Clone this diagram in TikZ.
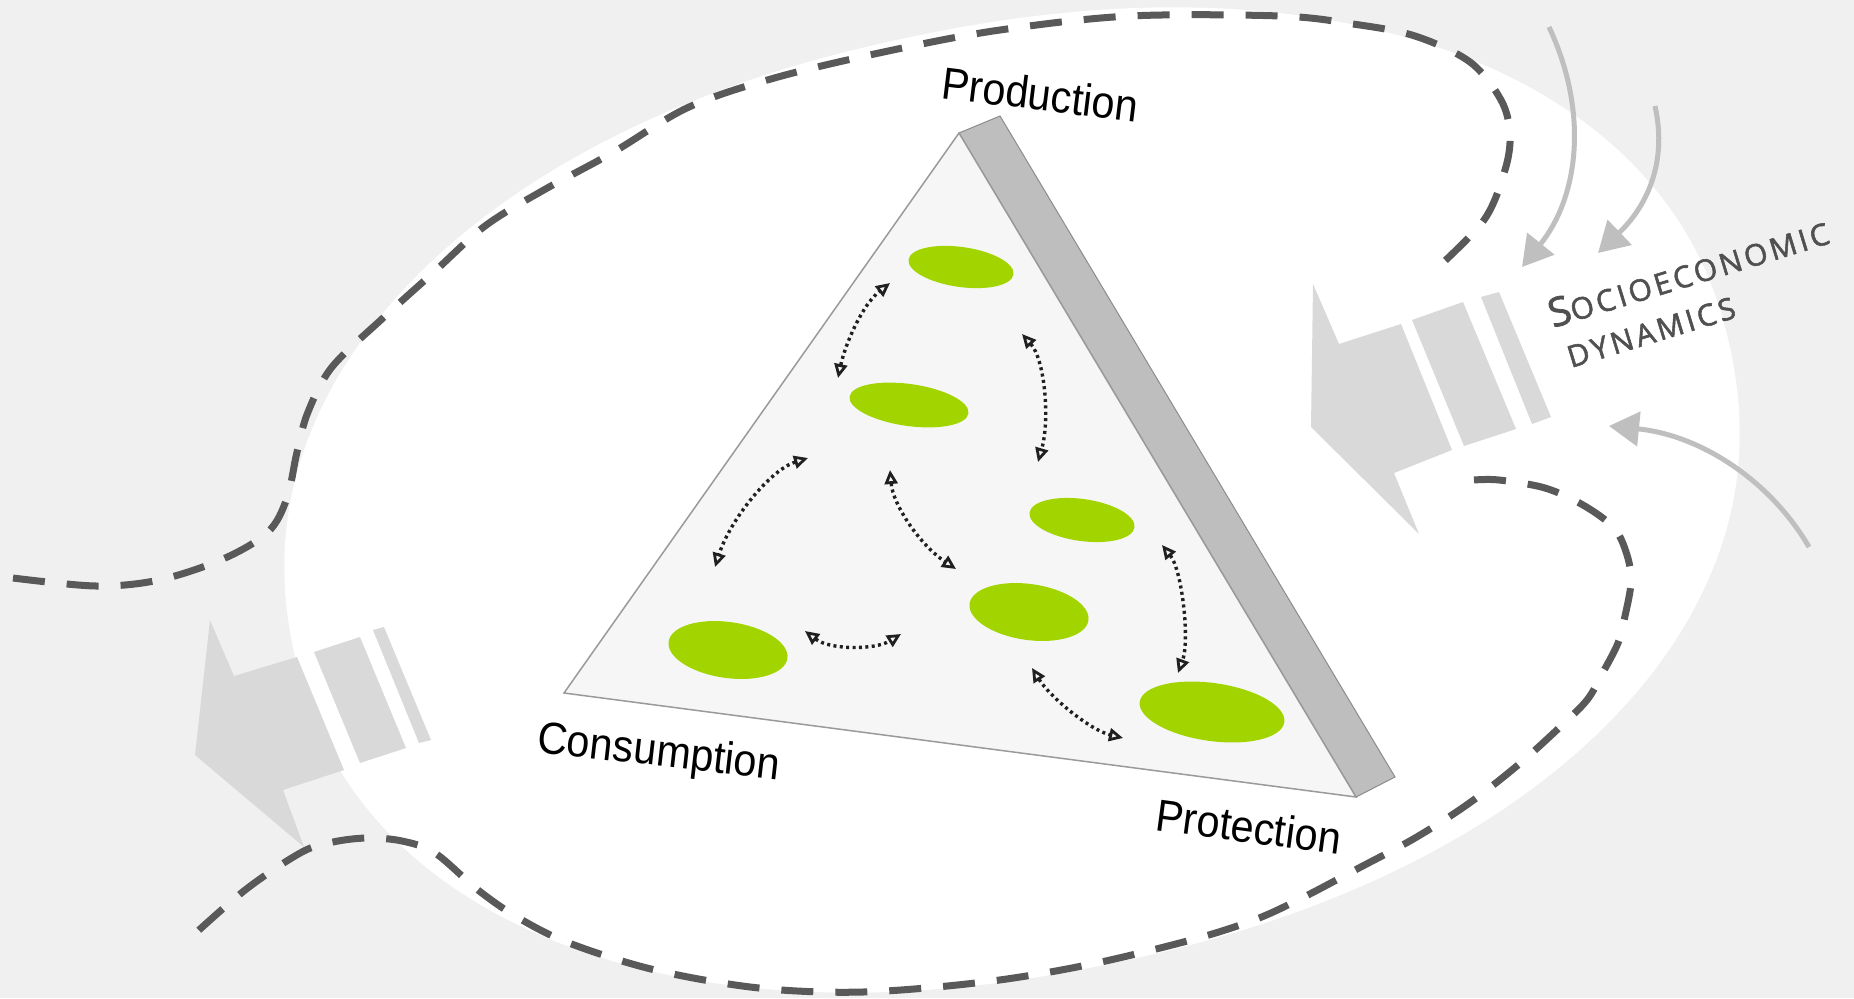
\documentclass[tikz,border=0pt]{standalone}
\usepackage{fontspec}
\usetikzlibrary{arrows.meta,shapes.geometric}
\newfontfamily\labelfont{Liberation Sans}
\newfontfamily\sociofont{Open Sans}[LetterSpace=11,FakeBold=1.8]
\definecolor{bgc}{HTML}{F0F0F0}
\definecolor{dashc}{HTML}{595959}
\definecolor{arrowgray}{HTML}{D9D9D9}
\definecolor{curvegray}{HTML}{BFBFBF}
\definecolor{trifill}{HTML}{F6F6F6}
\definecolor{triedge}{HTML}{9A9A9A}
\definecolor{wallc}{HTML}{BEBEBE}
\definecolor{walledge}{HTML}{8C8C8C}
\definecolor{leaf}{HTML}{A2D500}
\definecolor{dotc}{HTML}{202020}
\definecolor{socioc}{HTML}{505050}
\tikzset{
  declare function={cp(\t)=cos(\t)*(abs(cos(\t))+0.0001)^(-0.07);
                    sp(\t)=sin(\t)*(abs(sin(\t))+0.0001)^(-0.07);},
  dashline/.style={draw=dashc, line width=7pt, dash pattern=on 32pt off 22pt},
  bigarrow/.style={fill=arrowgray},
  curvarrow/.style={draw=curvegray, line width=5pt, -{Triangle[length=30pt,width=34pt]}},
  dotarrow/.style={draw=dotc, line width=3.4pt, dash pattern=on 3pt off 3.4pt,
    {Triangle[open,length=14pt,width=13pt,line width=2.8pt]}-{Triangle[open,length=14pt,width=13pt,line width=2.8pt]}},
  blob/.style={ellipse, fill=leaf, draw=none, inner sep=0pt, rotate=-8},
  labeltext/.style={font=\labelfont\fontsize{45}{45}\selectfont, text=black, inner sep=0pt, anchor=base west},
  sociotext/.style={font=\sociofont\fontsize{30}{30}\selectfont, text=socioc, inner sep=0pt, anchor=base west, rotate=17}
}
\begin{document}
\begin{tikzpicture}[x=1pt,y=-1pt]
\fill[bgc] (0,0) rectangle (1854,998);
\useasboundingbox (0,0) rectangle (1854,998);
% white field (tilted rounded oval)
\fill[white] plot[domain=0:360, samples=180, smooth cycle, variable=\t]
  ({1012+719*cp(\t)+95.3*sp(\t)}, {500-147.6*cp(\t)+464.3*sp(\t)});
% dashed boundary lines
\draw[dashline] plot[smooth, tension=0.55] coordinates {(13,578) (96,586) (159,580) (223,559) (268,532) (287,498) (297,452) (308,412) (332,367) (383,318) (434,272) (485,226) (542,191) (612,153) (689,107) (778,77) (893,50) (1000,30) (1130,16) (1280,16) (1353,24) (1415,36) (1470,62) (1501,100) (1510,134) (1505,170) (1484,220) (1434,271)};
\draw[dashline] plot[smooth, tension=0.55] coordinates {(1474,480) (1499,480) (1545,488) (1583,505) (1614,528) (1627,555) (1631,582) (1625,616) (1618,643) (1602,674) (1587,700) (1560,727) (1518,765) (1468,804) (1415,838) (1357,869) (1300,899) (1254,920) (1191,940) (1087,965) (984,982) (863,992) (759,988) (655,970) (569,943) (517,917) (478,890) (435,853) (402,841) (367,838) (333,842) (302,852) (249,887) (199,930) (188,942)};
% big grey arrows
\fill[bigarrow] (1339,344) -- (1313,284) -- (1311,427) -- (1419,534) -- (1394,473) -- (1452,450) -- (1401,324) -- cycle;
\fill[bigarrow] (1412,320) -- (1463,302) -- (1516,429) -- (1464,446) -- cycle;
\fill[bigarrow] (1481,297) -- (1499,292) -- (1551,417) -- (1532,424) -- cycle;
\fill[bigarrow] (234,676) -- (210,620) -- (195,755) -- (304,847) -- (283,790) -- (344,770) -- (297,657) -- cycle;
\fill[bigarrow] (314,652) -- (360,637) -- (406,748) -- (360,763) -- cycle;
\fill[bigarrow] (373,630) -- (384,627) -- (431,740) -- (419,743) -- cycle;
% curved grey arrows
\coordinate (a1s) at (1549,27);  \coordinate (a1e) at (1522,267);
\coordinate (a2s) at (1655,106); \coordinate (a2e) at (1598,253);
\coordinate (a3s) at (1809,547); \coordinate (a3e) at (1609,426);
\draw[curvarrow] (a1s) .. controls (1588,110) and (1580,195) .. (a1e);
\draw[curvarrow] (a2s) .. controls (1668,165) and (1645,208) .. (a2e);
\draw[curvarrow] (a3s) .. controls (1770,480) and (1700,435) .. (a3e);
% triangle
\coordinate (T) at (959,133);
\coordinate (L) at (564,693);
\coordinate (R) at (1356,797);
\coordinate (Tw) at (1000,116);
\coordinate (Rw) at (1395,777);
\filldraw[fill=wallc, draw=walledge, line width=1pt] (T) -- (Tw) -- (Rw) -- (R) -- cycle;
\filldraw[fill=trifill, draw=triedge, line width=1.5pt] (T) -- (L) -- (R) -- cycle;
% green blobs
\node[blob, minimum width=106pt, minimum height=40pt] (e1) at (961,267) {};
\node[blob, minimum width=120pt, minimum height=42pt] (e2) at (909,405) {};
\node[blob, minimum width=106pt, minimum height=42pt] (e3) at (1082,520) {};
\node[blob, minimum width=120pt, minimum height=56pt] (e4) at (1029,612) {};
\node[blob, minimum width=120pt, minimum height=56pt] (e5) at (728,650) {};
\node[blob, minimum width=146pt, minimum height=58pt] (e6) at (1212,712) {};
% dotted interaction arrows
\coordinate (d1a) at (838,378);  \coordinate (d1b) at (890,283);
\coordinate (d2a) at (1022,334); \coordinate (d2b) at (1038,462);
\coordinate (d3a) at (808,458);  \coordinate (d3b) at (715,567);
\coordinate (d4a) at (890,470);  \coordinate (d4b) at (956,569);
\coordinate (d5a) at (805,631);  \coordinate (d5b) at (901,634);
\coordinate (d6a) at (1162,545); \coordinate (d6b) at (1178,673);
\coordinate (d7a) at (1032,668); \coordinate (d7b) at (1123,738);
\draw[dotarrow] (d1a) .. controls (845,345) and (862,305) .. (d1b);
\draw[dotarrow] (d2a) .. controls (1045,360) and (1050,420) .. (d2b);
\draw[dotarrow] (d3a) .. controls (770,470) and (730,520) .. (d3b);
\draw[dotarrow] (d4a) .. controls (893,505) and (920,545) .. (d4b);
\draw[dotarrow] (d5a) .. controls (830,650) and (875,650) .. (d5b);
\draw[dotarrow] (d6a) .. controls (1182,570) and (1190,640) .. (d6b);
\draw[dotarrow] (d7a) .. controls (1050,697) and (1090,730) .. (d7b);
% labels
\node[labeltext, rotate=-7] (prod) at (940,98) {\scalebox{0.92}[1]{Production}};
\node[labeltext, rotate=-6.5] (cons) at (536,752) {\scalebox{0.92}[1]{Consumption}};
\node[labeltext, rotate=-7.6] (prot) at (1154,830) {\scalebox{0.92}[1]{Protection}};
\node[sociotext] (soc) at (1553,328) {{\fontsize{40}{40}\selectfont S}OCIOECONOMIC};
\node[sociotext] (dyn) at (1571,368) {DYNAMICS};
\end{tikzpicture}
\end{document}
